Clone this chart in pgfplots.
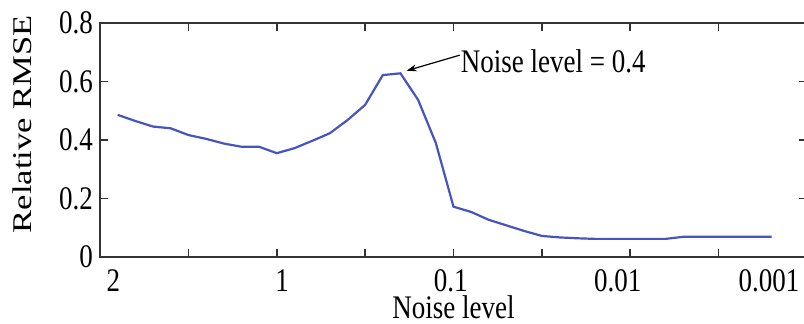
\documentclass[border=0pt]{standalone}
\usepackage{pgfplots}
\pgfplotsset{compat=1.18}
\usepackage{fontspec}
\setmainfont{Liberation Serif}
\usetikzlibrary{arrows.meta}
\definecolor{rmseblue}{RGB}{72,84,190}
\newcommand{\tall}[1]{\scalebox{1}[1.22]{#1}}
\begin{document}
\begin{tikzpicture}[font=\fontsize{13.5}{16}\selectfont]
\useasboundingbox (0,0) rectangle (402pt,161.5pt);
\begin{axis}[
  at={(50pt,33pt)}, anchor=south west,
  scale only axis, width=353.5pt, height=117pt,
  xmin=0, xmax=8, ymin=0, ymax=0.8,
  xtick={1,...,7}, xticklabels={,,,,,,},
  extra x ticks={0.15,2.06,3.97,5.86,7.57},
  extra x tick labels={\tall{2},\tall{1},\tall{0.1},\tall{0.01},\tall{0.001}},
  extra x tick style={major tick length=0pt,
    xticklabel style={inner sep=0.5pt, yshift=-5.5pt}},
  ytick={0,0.2,0.4,0.6,0.8},
  yticklabels={\tall{0},\tall{0.2},\tall{0.4},\tall{0.6},\tall{0.8}},
  tick align=inside, major tick length=4pt,
  xtick pos=both, ytick pos=both,
  tick style={black!80, line width=0.8pt},
  axis line style={black!80, line width=0.9pt},
  xlabel={\tall{Noise level}},
  xlabel style={at={(axis description cs:0.5,-0.214)}, anchor=center, inner sep=0pt},
  ylabel={\scalebox{1.28}[1]{Relative RMSE}},
  ylabel style={at={(axis description cs:-0.11,0.568)}, anchor=center},
  clip=false,
]
\addplot[rmseblue, line width=1.1pt] coordinates {
  (0.2,0.486) (0.4,0.465) (0.6,0.446) (0.8,0.440) (1.0,0.417)
  (1.2,0.404) (1.4,0.388) (1.6,0.377) (1.8,0.377) (2.0,0.355)
  (2.2,0.372) (2.4,0.397) (2.6,0.423) (2.8,0.468) (3.0,0.520)
  (3.2,0.622) (3.4,0.628) (3.6,0.537) (3.8,0.390) (4.0,0.172)
  (4.2,0.154) (4.4,0.127) (4.6,0.108) (4.8,0.089) (5.0,0.072)
  (5.2,0.067) (5.4,0.064) (5.6,0.062) (5.8,0.062) (6.0,0.062)
  (6.2,0.062) (6.4,0.062) (6.6,0.069) (6.8,0.069) (7.0,0.069)
  (7.2,0.069) (7.4,0.069) (7.6,0.069)
};
\draw[black, line width=0.6pt, -{Stealth[length=5pt,width=3.5pt]}]
  (axis cs:4.07,0.69) -- (axis cs:3.47,0.637);
\node[anchor=base west, inner sep=0pt] at (axis cs:4.08,0.632) {\tall{Noise level = 0.4}};
\end{axis}
\end{tikzpicture}
\end{document}
